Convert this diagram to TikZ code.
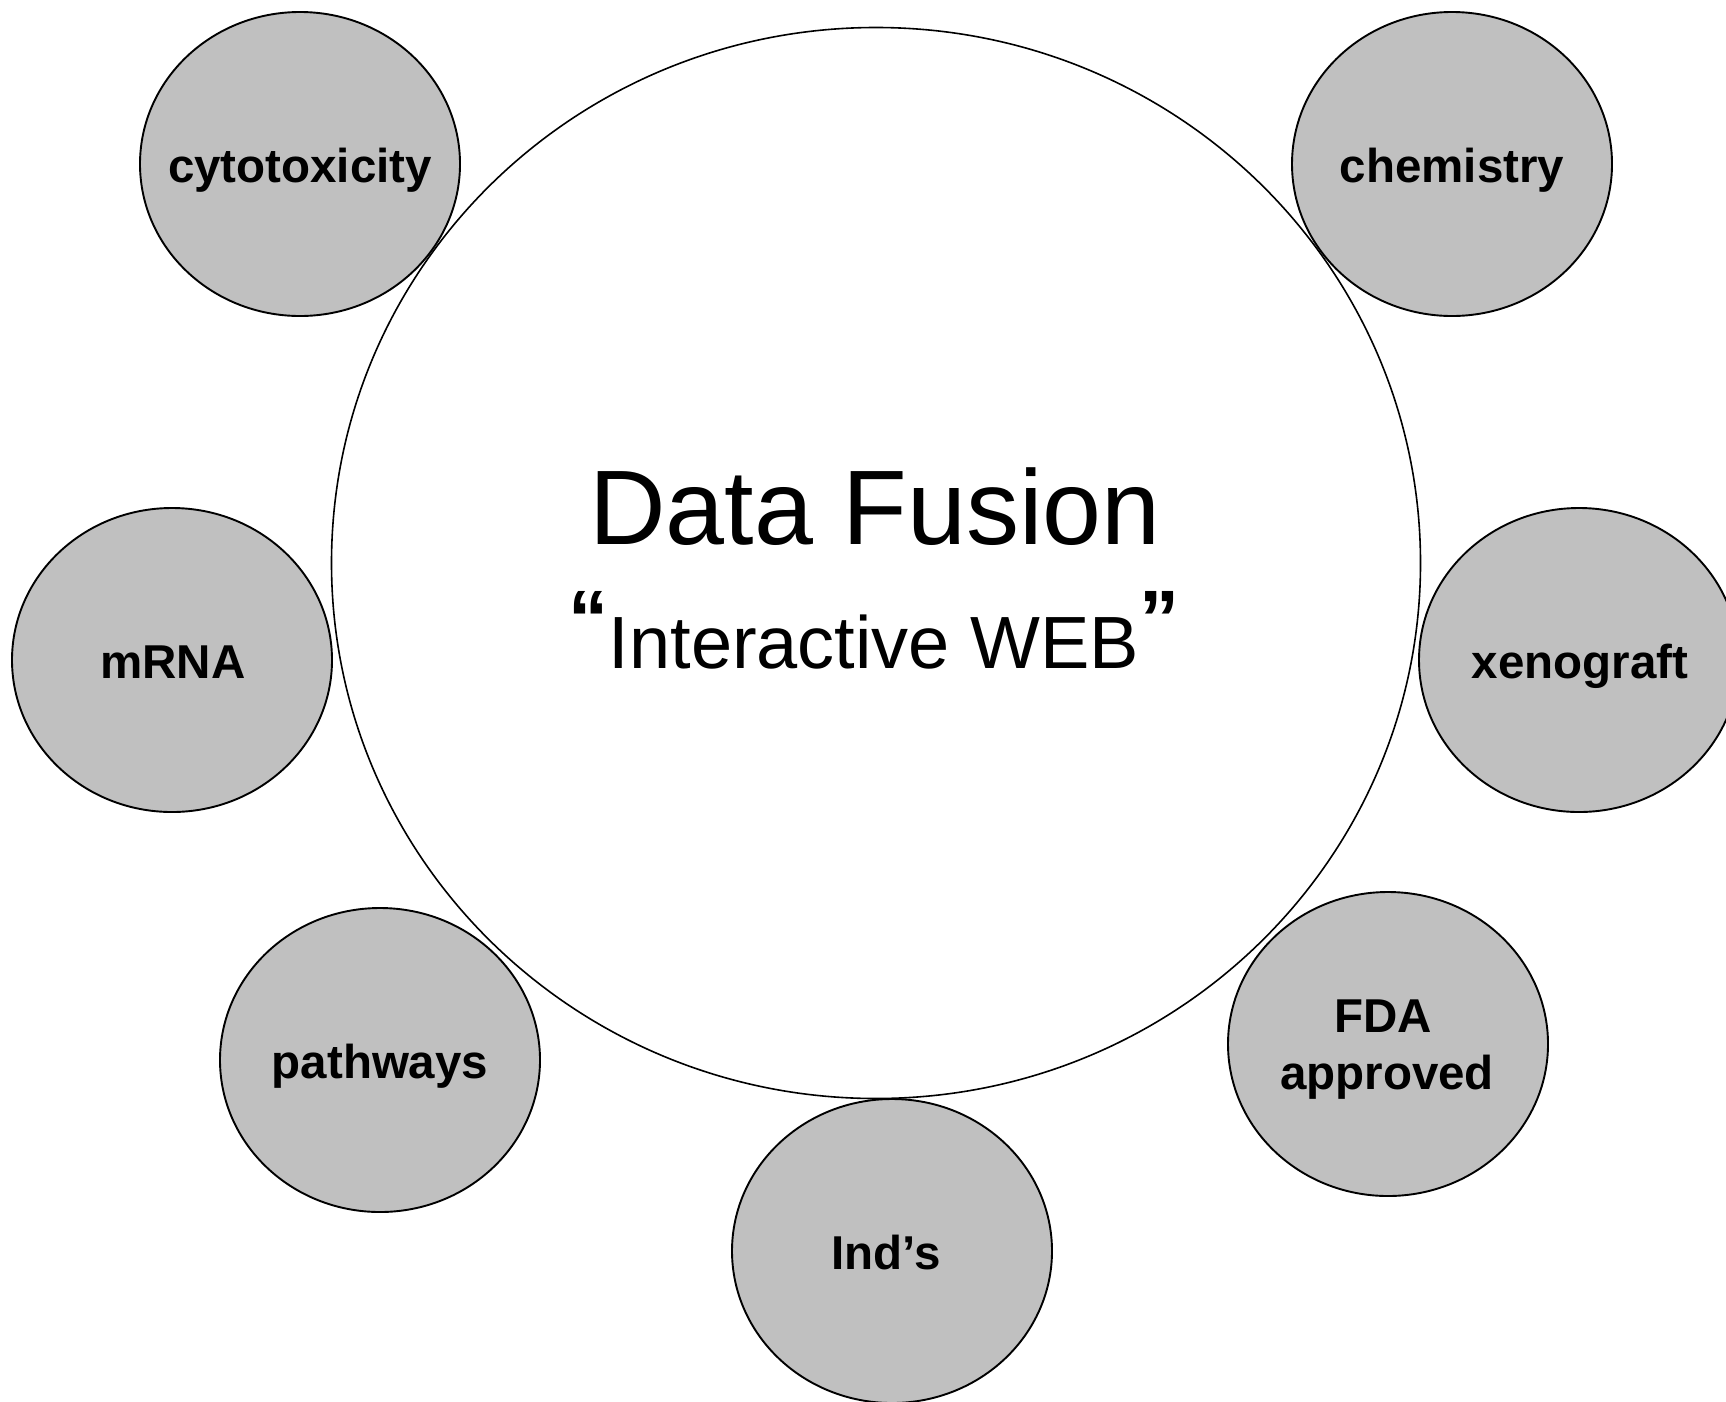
\documentclass[tikz,border=0pt]{standalone}
\usepackage{fontspec}
\setmainfont{Liberation Sans}
\usetikzlibrary{shapes.geometric}
\definecolor{bubblegray}{RGB}{192,192,192}
\begin{document}
\begin{tikzpicture}[x=1pt,y=-1pt,
  hub/.style={ellipse, draw=black, line width=1.6pt, minimum width=1089pt,
    minimum height=1071pt, inner sep=0pt},
  bubble/.style={ellipse, draw=black, line width=1.9pt, fill=bubblegray,
    minimum width=320pt, minimum height=304pt, inner sep=0pt},
  tag/.style={anchor=base, inner sep=0pt, font=\fontsize{47.5}{55}\selectfont\bfseries}]
\useasboundingbox (0,0) rectangle (1726,1401);

% central fusion circle
\node[hub] (web) at (876,563) {};
\node[anchor=base, inner sep=0pt, font=\fontsize{106}{120}\selectfont] (title) at (875,544) {Data Fusion};
\node[anchor=base, inner sep=0pt, font=\fontsize{74}{88}\selectfont] (subtitle) at (874,668)
  {\raisebox{22pt}{\fontsize{80}{90}\selectfont\bfseries “}Interactive WEB\raisebox{22pt}{\fontsize{80}{90}\selectfont\bfseries ”}};

% surrounding data sources
\node[bubble] (cyto) at (300,164) {};
\node[bubble] (chem) at (1452,164) {};
\node[bubble] (mrna) at (172,660) {};
\node[bubble] (xeno) at (1579,660) {};
\node[bubble] (path) at (380,1060) {};
\node[bubble] (fda)  at (1388,1044) {};
\node[bubble] (inds) at (892,1251) {};

\node[tag] (cytoT) at (300,182) {cytotoxicity};
\node[tag] (chemT) at (1452,182) {chemistry};
\node[tag] (mrnaT) at (173,678) {mRNA};
\node[tag] (xenoT) at (1580,678) {xenograft};
\node[tag] (pathT) at (380,1078) {pathways};
\node[tag] (fdaT1) at (1383,1032) {FDA};
\node[tag] (fdaT2) at (1387,1089) {approved};
\node[tag] (indsT) at (886,1269) {Ind’s};
\end{tikzpicture}
\end{document}
